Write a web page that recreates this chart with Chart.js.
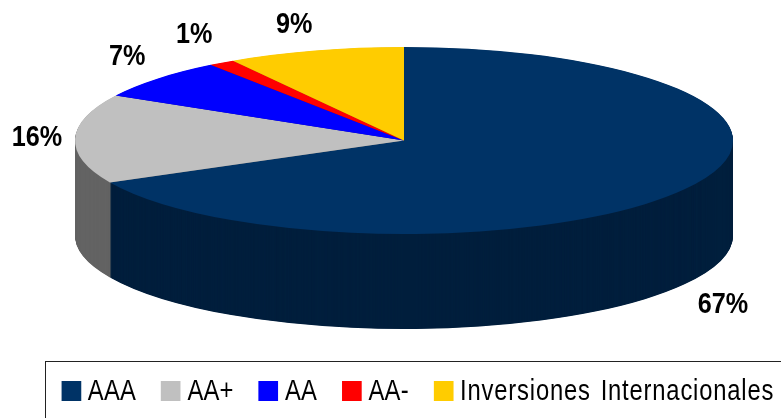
<!DOCTYPE html>
<html>
<head>
<meta charset="utf-8">
<style>
    html, body { margin: 0; padding: 0; background: #fff; overflow: hidden; }
    #wrap { position: relative; width: 781px; height: 418px; overflow: hidden; }
    #frame {
        position: absolute; left: 45px; top: 361px; width: 736px; height: 57px;
        box-sizing: border-box; border-top: 1px solid #222; border-left: 1px solid #222;
    }
    /* no narrow face is installed, so the whole row is squeezed sideways */
    #legend {
        position: absolute; left: 0; top: 0; width: 900px; height: 56px;
        transform: scaleX(0.82); transform-origin: left center;
        display: flex; align-items: center; padding-left: 19px; gap: 30.5px;
        font: 29px "Liberation Sans", sans-serif; color: #000; letter-spacing: 0.3px;
    }
    #legend span.item { display: flex; align-items: center; white-space: nowrap; line-height: 1; }
    #legend span.item:last-child { letter-spacing: 1px; word-spacing: 3px; }
    #legend i { display: block; width: 23.5px; height: 20px; margin-right: 8.5px; margin-top: 1px; }
</style>
</head>
<body>
<div id="wrap">
    <canvas id="pie" width="781" height="418"></canvas>
    <div id="frame"><div id="legend"></div></div>
</div>
<script src="https://cdn.jsdelivr.net/npm/chart.js@4"></script>
<script>
const categories = ['AAA', 'AA+', 'AA', 'AA-', 'Inversiones Internacionales'];
const values = [67.6, 15.4, 7.0, 1.3, 8.7];
const percentLabels = ['67%', '16%', '7%', '1%', '9%'];
const colors = ['#003366', '#C0C0C0', '#0000FF', '#FF0000', '#FFCC00'];
const wallColors = ['#001F3D', '#636363', '#00009A', '#9A0000', '#9A7B00'];
// label shift from the rim point of each slice
const labelOffsets = [[39, 115], [-38, -1], [-30, -22], [-27.5, -28], [-21, -26]];

const squash = 93.5 / 329;
const depth = 95;

function flatten(ctx, x, y, down) {
    ctx.translate(x, y + down);
    ctx.scale(1, squash);
    ctx.translate(-x, -y);
}

const flatPie = {
    id: 'flatPie',
    beforeDatasetDraw: function (chart) {
        const ctx = chart.ctx;
        const arcs = chart.getDatasetMeta(0).data;
        const x = arcs[0].x;
        const y = arcs[0].y;

        // side wall: the same arcs stacked downwards, darker
        for (let d = depth; d >= 0.5; d -= 0.5) {
            arcs.forEach(function (arc, i) {
                const saved = arc.options;
                arc.options = Object.assign({}, saved, { backgroundColor: wallColors[i] });
                ctx.save();
                flatten(ctx, x, y, d);
                arc.draw(ctx);
                ctx.restore();
                arc.options = saved;
            });
        }

        ctx.save();
        flatten(ctx, x, y, 0);
    },
    afterDatasetDraw: function (chart) {
        chart.ctx.restore();
    },
    afterDraw: function (chart) {
        const ctx = chart.ctx;
        ctx.save();
        ctx.font = 'bold 30px "Liberation Sans", sans-serif';
        ctx.fillStyle = '#000';
        ctx.textAlign = 'center';
        ctx.textBaseline = 'middle';
        chart.getDatasetMeta(0).data.forEach(function (arc, i) {
            const mid = (arc.startAngle + arc.endAngle) / 2;
            const rimX = arc.x + arc.outerRadius * Math.cos(mid);
            const rimY = arc.y + arc.outerRadius * squash * Math.sin(mid);
            ctx.save();
            ctx.translate(rimX + labelOffsets[i][0], rimY + labelOffsets[i][1]);
            ctx.scale(0.84, 1);
            ctx.fillText(percentLabels[i], 0, 0);
            ctx.restore();
        });
        ctx.restore();
    }
};

new Chart(document.getElementById('pie'), {
    type: 'pie',
    data: {
        labels: categories,
        datasets: [{
            data: values,
            backgroundColor: colors,
            borderWidth: 0,
            clip: false
        }]
    },
    options: {
        responsive: false,
        animation: false,
        radius: 329,
        layout: { padding: { left: 27, top: 1, bottom: 138 } },
        plugins: {
            legend: { display: false },
            tooltip: { enabled: false }
        }
    },
    plugins: [flatPie]
});

const legend = document.getElementById('legend');
categories.forEach(function (name, i) {
    const item = document.createElement('span');
    item.className = 'item';
    const box = document.createElement('i');
    box.style.background = colors[i];
    item.appendChild(box);
    item.appendChild(document.createTextNode(name));
    legend.appendChild(item);
});
</script>
</body>
</html>
